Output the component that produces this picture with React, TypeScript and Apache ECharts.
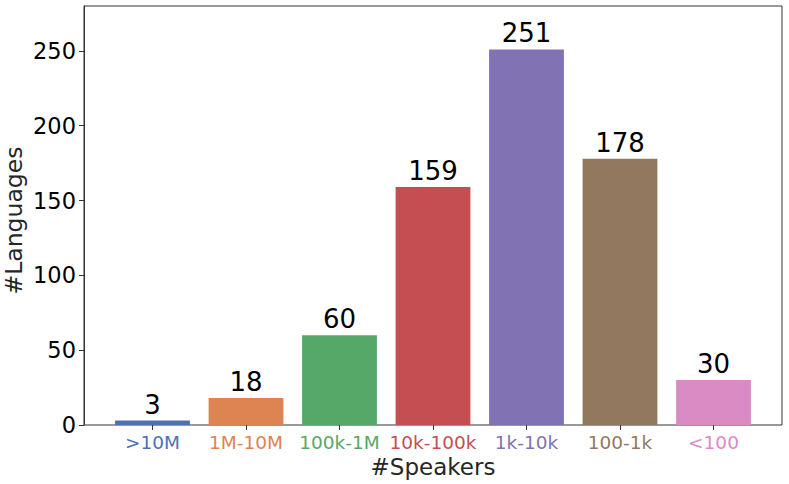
import React, { useEffect, useRef } from "react";
import * as echarts from "echarts";

const categories = [">10M", "1M-10M", "100k-1M", "10k-100k", "1k-10k", "100-1k", "<100"];
const languageCounts = [3, 18, 60, 159, 251, 178, 30];
const barColors = ["#4C72B0", "#DD8452", "#55A868", "#C44E52", "#8172B3", "#937860", "#DA8BC3"];
const yTicks = [0, 50, 100, 150, 200, 250];

const FONT = "DejaVu Sans";

export default function App() {
  const ref = useRef<HTMLDivElement>(null);
  useEffect(() => {
    if (!ref.current) return;
    const chart = echarts.init(ref.current, undefined, { renderer: "svg" });
    const rich: Record<string, any> = {};
    barColors.forEach((c, i) => {
      rich["c" + i] = { color: c, fontSize: 18.5, fontFamily: FONT };
    });
    chart.setOption({
      animation: false,
      backgroundColor: "#ffffff",
      grid: [
        { left: 84, right: 7, top: 6, bottom: 59, show: true, borderColor: "#333333", borderWidth: 1, backgroundColor: "transparent", containLabel: false, outerBoundsMode: "none" },
        { left: 105.75, right: 28.75, top: 6, bottom: 59, show: false, containLabel: false, outerBoundsMode: "none" },
      ],
      xAxis: [
        { type: "category", gridIndex: 0, data: categories, show: false },
        {
          type: "category",
          gridIndex: 1,
          data: categories,
          axisLine: { show: false },
          axisTick: { show: true, alignWithLabel: true, length: 5, lineStyle: { color: "#333333" } },
          axisLabel: {
            margin: 8,
            interval: 0,
            fontSize: 18.5,
            fontFamily: FONT,
            formatter: (v: string, i: number) => `{c${i}|${v}}`,
            rich,
          },
          name: "#Speakers",
          nameLocation: "middle",
          nameGap: 30,
          nameMoveOverlap: false,
          nameTextStyle: { fontSize: 23, fontFamily: FONT, color: "#262626" },
        },
      ],
      yAxis: [
        {
          type: "value",
          gridIndex: 0,
          min: 0,
          max: 280,
          interval: 50,
          splitLine: { show: false },
          axisLine: { show: true, lineStyle: { color: "#333333" } },
          axisTick: { show: true, length: 5, lineStyle: { color: "#333333" } },
          axisLabel: {
            margin: 8,
            fontSize: 22.5,
            fontFamily: FONT,
            color: "#000000",
            showMaxLabel: false,
            formatter: (v: number) => (yTicks.includes(v) ? String(v) : ""),
          },
          name: "#Languages",
          nameLocation: "middle",
          nameRotate: 90,
          nameGap: 58,
          nameMoveOverlap: false,
          nameTextStyle: { fontSize: 23.5, fontFamily: FONT, color: "#262626", padding: [0, 10, 0, 0] },
        },
        { type: "value", gridIndex: 1, min: 0, max: 280, show: false },
      ],
      series: [
        {
          type: "bar",
          xAxisIndex: 1,
          yAxisIndex: 1,
          barWidth: "80%",
          data: languageCounts.map((v, i) => ({ value: v, itemStyle: { color: barColors[i] } })),
          label: {
            show: true,
            position: "top",
            distance: 3,
            fontSize: 26,
            fontFamily: FONT,
            color: "#000000",
          },
        },
      ],
    });
    return () => chart.dispose();
  }, []);
  return <div ref={ref} style={{ width: 789, height: 484, position: "absolute", left: 0, top: 0 }} />;
}
